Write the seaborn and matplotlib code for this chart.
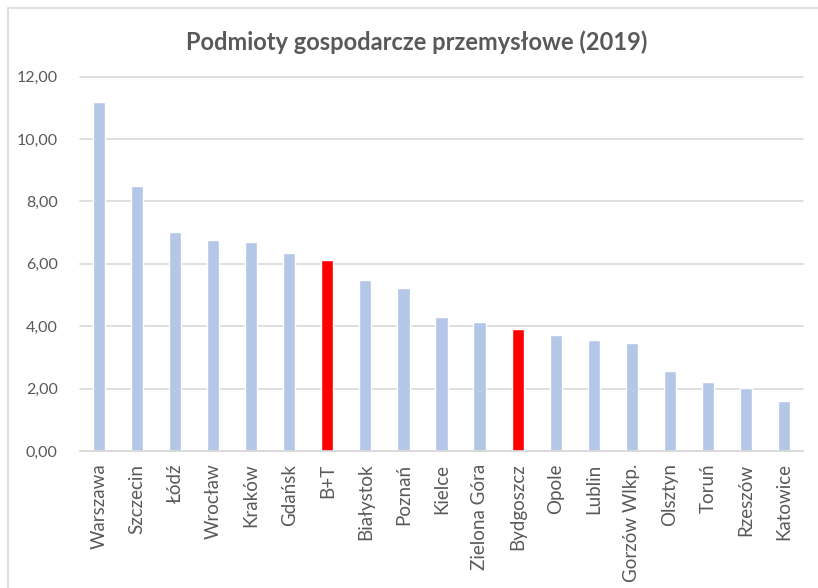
import matplotlib
matplotlib.use("Agg")
import matplotlib.pyplot as plt
import seaborn as sns
import pandas as pd
from matplotlib.lines import Line2D
from matplotlib.ticker import FuncFormatter

cities = ["Warszawa", "Szczecin", "Łódź", "Wrocław", "Kraków", "Gdańsk", "B+T",
          "Białystok", "Poznań", "Kielce", "Zielona Góra", "Bydgoszcz", "Opole",
          "Lublin", "Gorzów Wlkp.", "Olsztyn", "Toruń", "Rzeszów", "Katowice"]
values = [11.20, 8.48, 7.03, 6.78, 6.69, 6.35, 6.11, 5.49, 5.24, 4.30, 4.12,
          3.90, 3.73, 3.56, 3.47, 2.56, 2.21, 2.01, 1.59]
highlight = ["B+T", "Bydgoszcz"]
title = "Podmioty gospodarcze przemysłowe (2019)"

df = pd.DataFrame({"city": cities, "value": values})
palette = {c: ("#ff0000" if c in highlight else "#b4c7e7") for c in cities}

sns.set_theme(style="white")
plt.rcParams["font.family"] = ["Lato", "DejaVu Sans"]

fig = plt.figure(figsize=(8.18, 5.88), dpi=100)
ax = fig.add_axes([80 / 818, 1 - 451 / 588, 723 / 818, 374.3 / 588])

sns.barplot(data=df, x="city", y="value", hue="city", palette=palette,
            width=0.32, legend=False, ax=ax, saturation=1)

ax.set_ylim(0, 12)
ax.set_xlim(-0.5, len(cities) - 0.5)
ax.set_yticks([0, 2, 4, 6, 8, 10, 12])
ax.yaxis.set_major_formatter(FuncFormatter(lambda v, p: f"{v:.2f}".replace(".", ",")))
ax.grid(axis="y", color="#d9d9d9", linewidth=1.2)
ax.set_axisbelow(True)
for s in ["top", "right", "left"]:
    ax.spines[s].set_visible(False)
ax.spines["bottom"].set_color("#d9d9d9")
ax.spines["bottom"].set_linewidth(1.2)
for gl in ax.get_ygridlines():
    gl.set_clip_on(False)

ax.set_xlabel("")
ax.set_ylabel("")
ax.tick_params(axis="y", labelsize=11.5, labelcolor="#595959", length=0, pad=16)
ax.tick_params(axis="x", labelsize=13.5, labelcolor="#595959", length=0, pad=9,
               labelrotation=90)

fig.text(417 / 818, 1 - 42 / 588, title, ha="center", va="center",
         fontsize=17, fontweight="bold", color="#595959")

# chart frame (top and left edges visible)
fig.add_artist(Line2D([8 / 818, 1.0], [1 - 8 / 588, 1 - 8 / 588],
                      transform=fig.transFigure, color="#d9d9d9", linewidth=1.2))
fig.add_artist(Line2D([8 / 818, 8 / 818], [0.0, 1 - 8 / 588],
                      transform=fig.transFigure, color="#d9d9d9", linewidth=1.2))

fig.savefig("out.png", dpi=100)
